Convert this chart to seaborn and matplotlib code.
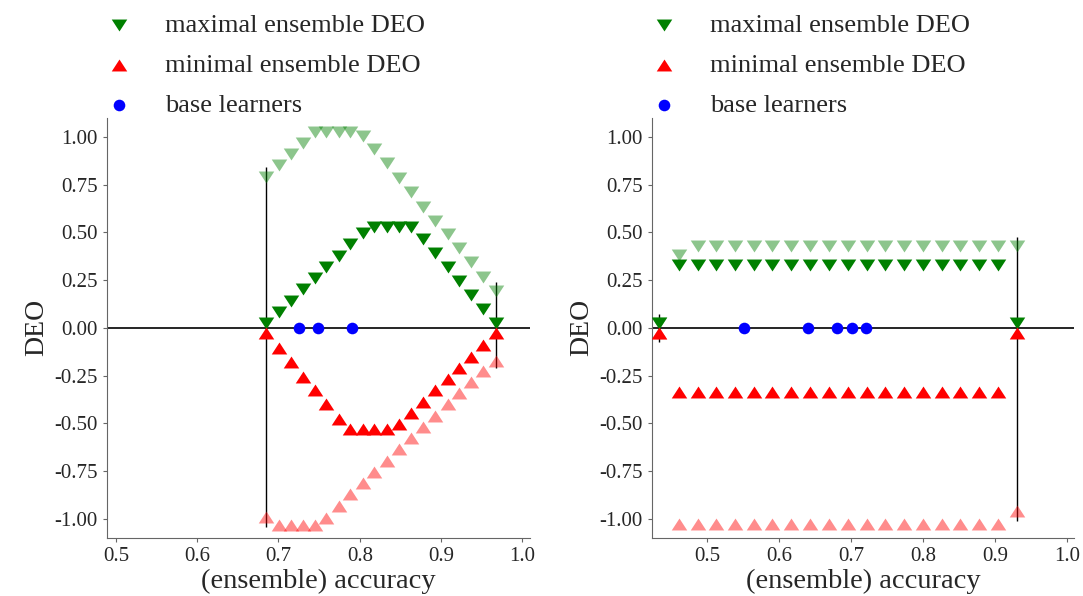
import matplotlib
matplotlib.use("Agg")
import matplotlib.pyplot as plt
import seaborn as sns

# left panel
acc_left = [0.685, 0.701, 0.715, 0.730, 0.745, 0.759, 0.774, 0.788, 0.804, 0.818,
            0.833, 0.848, 0.863, 0.878, 0.892, 0.908, 0.922, 0.937, 0.952, 0.967]
max_deo_left = [0.028, 0.085, 0.143, 0.203, 0.260, 0.321, 0.379, 0.438, 0.496, 0.527,
                0.527, 0.527, 0.527, 0.466, 0.394, 0.321, 0.246, 0.173, 0.099, 0.028]
max_deo_left_light = [0.792, 0.853, 0.909, 0.967, 1.025, 1.025, 1.025, 1.025, 1.005, 0.936,
                      0.862, 0.784, 0.714, 0.635, 0.560, 0.490, 0.417, 0.344, 0.269, 0.194]
min_deo_left = [-0.028, -0.106, -0.180, -0.255, -0.325, -0.400, -0.476, -0.531, -0.531, -0.531,
                -0.531, -0.504, -0.443, -0.386, -0.325, -0.267, -0.208, -0.150, -0.089, -0.028]
min_deo_left_light = [-0.988, -1.031, -1.031, -1.031, -1.031, -0.993, -0.932, -0.871, -0.813, -0.756,
                      -0.696, -0.635, -0.577, -0.517, -0.459, -0.400, -0.342, -0.284, -0.225, -0.171]
base_acc_left = [0.725, 0.749, 0.790]
vline_x_left = [0.685, 0.967]
vline_lo_left = [-1.04, -0.21]
vline_hi_left = [0.84, 0.24]

# right panel
acc_right = [0.434, 0.461, 0.487, 0.513, 0.539, 0.565, 0.591, 0.617, 0.643, 0.669, 0.696,
             0.722, 0.748, 0.774, 0.800, 0.826, 0.852, 0.878, 0.904, 0.931]
max_deo_right = [0.028, 0.332, 0.332, 0.332, 0.332, 0.332, 0.332, 0.332, 0.332, 0.332, 0.332,
                 0.332, 0.332, 0.332, 0.332, 0.332, 0.332, 0.332, 0.332, 0.028]
max_deo_right_light = [0.028, 0.380, 0.428, 0.428, 0.428, 0.428, 0.428, 0.428, 0.428, 0.428, 0.428,
                       0.428, 0.428, 0.428, 0.428, 0.428, 0.428, 0.428, 0.428, 0.428]
min_deo_right = [-0.028, -0.336, -0.336, -0.336, -0.336, -0.336, -0.336, -0.336, -0.336, -0.336, -0.336,
                 -0.336, -0.336, -0.336, -0.336, -0.336, -0.336, -0.336, -0.336, -0.028]
min_deo_right_light = [-0.028, -1.029, -1.029, -1.029, -1.029, -1.029, -1.029, -1.029, -1.029, -1.029, -1.029,
                       -1.029, -1.029, -1.029, -1.029, -1.029, -1.029, -1.029, -1.029, -0.960]
base_acc_right = [0.551, 0.641, 0.681, 0.701, 0.721]
vline_x_right = [0.434, 0.931]
vline_lo_right = [-0.075, -1.01]
vline_hi_right = [0.075, 0.475]

x_ticks = [0.5, 0.6, 0.7, 0.8, 0.9, 1.0]
y_ticks = [-1.0, -0.75, -0.5, -0.25, 0.0, 0.25, 0.5, 0.75, 1.0]

sns.set_style("ticks")
plt.rcParams["font.family"] = ["Liberation Serif", "DejaVu Serif"]

# wider-than-tall triangles, like in the original
TRI_DOWN = [(-0.65, 0.5), (0.65, 0.5), (0.0, -0.5)]
TRI_UP = [(-0.65, -0.5), (0.65, -0.5), (0.0, 0.5)]
S = 125
ALPHA_LIGHT = 0.45


def draw_panel(ax, acc, mx, mx_light, mn, mn_light, base_acc, vx, vlo, vhi, xlim):
    ax.axhline(0, color="black", lw=1.2, zorder=1)
    ax.vlines(vx, vlo, vhi, color="black", lw=1.0, zorder=1)
    sns.scatterplot(x=acc, y=mx_light, ax=ax, marker=TRI_DOWN, color="green",
                    s=S, alpha=ALPHA_LIGHT, linewidth=0, zorder=2, legend=False)
    sns.scatterplot(x=acc, y=mn_light, ax=ax, marker=TRI_UP, color="red",
                    s=S, alpha=ALPHA_LIGHT, linewidth=0, zorder=2, legend=False)
    sns.scatterplot(x=acc, y=mx, ax=ax, marker=TRI_DOWN, color="green",
                    s=S, linewidth=0, zorder=3, label="maximal ensemble DEO")
    sns.scatterplot(x=acc, y=mn, ax=ax, marker=TRI_UP, color="red",
                    s=S, linewidth=0, zorder=3, label="minimal ensemble DEO")
    sns.scatterplot(x=base_acc, y=[0.0] * len(base_acc), ax=ax, marker="o", color="blue",
                    s=70, linewidth=0, zorder=4, label="base learners")

    ax.set_xlim(*xlim)
    ax.set_ylim(-1.1, 1.1)
    ax.set_xticks(x_ticks)
    ax.set_yticks(y_ticks)
    ax.set_xticklabels([f"{t:.1f}" for t in x_ticks])
    ax.set_yticklabels([f"{t:.2f}" for t in y_ticks])
    ax.tick_params(labelsize=15, length=3, color="0.4")
    for side in ["left", "bottom"]:
        ax.spines[side].set_color("0.4")
    sns.despine(ax=ax)
    ax.set_xlabel("(ensemble) accuracy", fontsize=20.5, labelpad=2)
    ax.set_ylabel("DEO", fontsize=20, labelpad=4)
    ax.legend(loc="lower left", bbox_to_anchor=(-0.06, 0.978), frameon=False,
              fontsize=19, borderaxespad=0, handletextpad=0.75, labelspacing=0.62)


fig = plt.figure(figsize=(10.83, 5.96), dpi=100)
ax1 = fig.add_axes([0.0988, 0.0973, 0.391, 0.705])
ax2 = fig.add_axes([0.602, 0.0973, 0.3897, 0.705])

draw_panel(ax1, acc_left, max_deo_left, max_deo_left_light, min_deo_left, min_deo_left_light,
           base_acc_left, vline_x_left, vline_lo_left, vline_hi_left, (0.489, 1.01))
draw_panel(ax2, acc_right, max_deo_right, max_deo_right_light, min_deo_right, min_deo_right_light,
           base_acc_right, vline_x_right, vline_lo_right, vline_hi_right, (0.4236, 1.01))

fig.savefig("out.png", dpi=100)
